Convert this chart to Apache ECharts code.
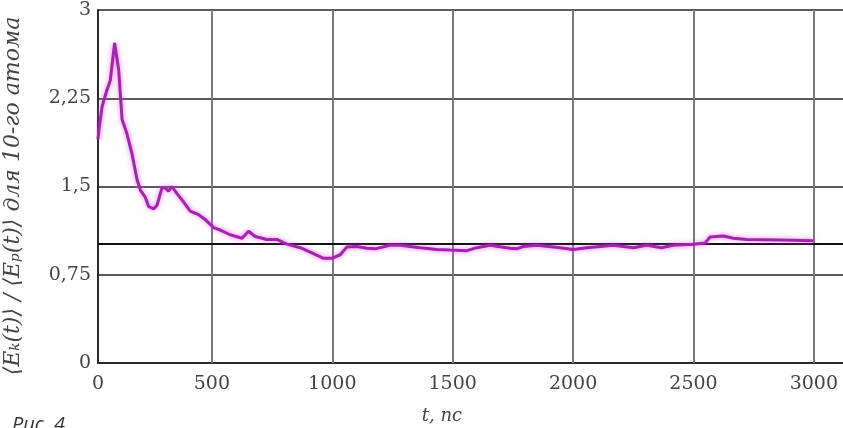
<!DOCTYPE html>
<html>
<head>
<meta charset="utf-8">
<script src="https://cdn.jsdelivr.net/npm/echarts@6/dist/echarts.min.js"></script>
<style>
  html, body { margin: 0; padding: 0; background: #fff; }
  #chart { width: 843px; height: 428px; }
</style>
</head>
<body>
<div id="chart"></div>
<script>
// ---- data ----
const tValues = [27, 32, 44, 64, 78, 96, 113, 127, 147, 168, 189, 203, 223, 237, 258, 272, 293, 306, 320, 334, 355, 382, 410, 445, 472, 507, 535, 576, 625, 652, 680, 728, 770, 811, 867, 922, 964, 998, 1033, 1060, 1102, 1144, 1178, 1240, 1282, 1365, 1434, 1489, 1559, 1600, 1655, 1738, 1766, 1793, 1850, 1946, 2001, 2057, 2167, 2250, 2306, 2368, 2415, 2500, 2548, 2569, 2624, 2665, 2721, 2860, 2998];
const ratioValues = [1.90, 2.00, 2.18, 2.32, 2.40, 2.72, 2.49, 2.07, 1.95, 1.78, 1.56, 1.47, 1.41, 1.33, 1.31, 1.34, 1.49, 1.49, 1.46, 1.50, 1.44, 1.37, 1.29, 1.26, 1.22, 1.15, 1.13, 1.09, 1.06, 1.12, 1.075, 1.05, 1.05, 1.01, 0.98, 0.93, 0.89, 0.89, 0.92, 0.985, 0.99, 0.976, 0.97, 1.0, 1.0, 0.98, 0.965, 0.96, 0.955, 0.98, 1.0, 0.975, 0.97, 0.99, 1.0, 0.98, 0.965, 0.98, 1.0, 0.98, 1.0, 0.98, 1.0, 1.01, 1.02, 1.07, 1.08, 1.06, 1.05, 1.045, 1.04];
const xMin = 27;
const xMax = 3121;
const xTickValues = [27, 500, 1000, 1500, 2000, 2500, 3000];
const xGridValues = [500, 1000, 1500, 2000, 2500, 3000];
const yTickValues = [0, 0.75, 1.5, 2.25, 3];
const refLevel = 1.01;
const xAxisTitle = 't, пс';
const yAxisTitle = '⟨Eₖ(t)⟩ / ⟨Eₚ(t)⟩ для 10-го атома';
const captionText = 'Рис. 4';

const chart = echarts.init(document.getElementById('chart'));
const serif = '"DejaVu Serif", "Liberation Serif", serif';
const seriesData = tValues.map((t, i) => [t, ratioValues[i]]);

chart.setOption({
  animation: false,
  backgroundColor: '#ffffff',
  grid: { left: 98, top: 10, right: 0, bottom: 65, containLabel: false },
  xAxis: {
    type: 'value',
    min: xMin,
    max: xMax,
    axisLine: { show: true, lineStyle: { color: '#2a2a2a', width: 2 } },
    axisTick: { show: false },
    splitLine: { show: false },
    axisLabel: {
      customValues: xTickValues,
      formatter: v => (v === xMin ? '0' : String(v)),
      fontFamily: serif,
      fontSize: 19,
      color: '#444444',
      margin: 12
    }
  },
  yAxis: {
    type: 'value',
    min: 0,
    max: 3,
    interval: 0.75,
    axisLine: { show: true, lineStyle: { color: '#2a2a2a', width: 2 } },
    axisTick: { show: false },
    splitLine: { show: true, lineStyle: { color: '#5a5a5a', width: 2 } },
    axisLabel: {
      formatter: v => String(v).replace('.', ','),
      fontFamily: serif,
      fontSize: 19,
      color: '#444444',
      margin: 7
    }
  },
  series: [{
    type: 'line',
    data: seriesData,
    symbol: 'none',
    smooth: false,
    z: 5,
    lineStyle: {
      color: '#a424ae',
      width: 3,
      shadowColor: 'rgba(225, 70, 235, 0.75)',
      shadowBlur: 5
    },
    markLine: {
      silent: true,
      symbol: 'none',
      label: { show: false },
      animation: false,
      data: xGridValues.map(v => ({ xAxis: v, lineStyle: { color: '#7a7a7a', width: 2, type: 'solid' } }))
        .concat([{ yAxis: refLevel, lineStyle: { color: '#111111', width: 2, type: 'solid' } }])
    }
  }],
  graphic: [
    {
      type: 'text',
      x: 13,
      y: 196,
      rotation: Math.PI / 2,
      style: {
        text: yAxisTitle,
        font: 'italic 22px "DejaVu Serif", "Liberation Serif", serif',
        fill: '#444444',
        align: 'center',
        verticalAlign: 'middle'
      }
    },
    {
      type: 'text',
      x: 442,
      y: 416,
      style: {
        text: xAxisTitle,
        font: 'italic 18px "DejaVu Serif", "Liberation Serif", serif',
        fill: '#444444',
        align: 'center',
        verticalAlign: 'middle'
      }
    },
    {
      type: 'text',
      x: 12,
      y: 415,
      style: {
        text: captionText,
        font: 'italic 20px "Open Sans", "DejaVu Sans", sans-serif',
        fill: '#333333',
        align: 'left',
        verticalAlign: 'top'
      }
    }
  ]
});
</script>
</body>
</html>
